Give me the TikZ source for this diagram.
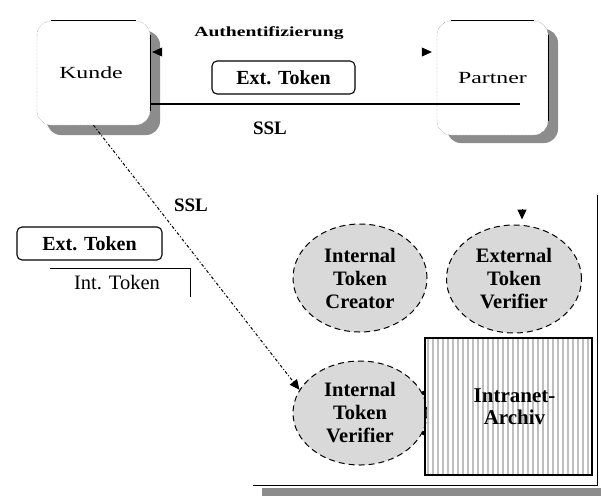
\documentclass[tikz,border=0pt]{standalone}
\usepackage{fontspec}
\setmainfont{Liberation Serif}
\newfontfamily\widefont[FakeStretch=1.4]{Liberation Serif}
\usetikzlibrary{arrows.meta,shapes.geometric}
\tikzset{
  shadowfill/.style={fill=black!45},
  bigbox/.style={rectangle, rounded corners=14pt, fill=white, inner sep=0pt},
  tokbox/.style={rectangle, rounded corners=5pt, draw, line width=1.1pt, inner sep=0pt, font=\fontsize{20}{22}\selectfont\bfseries},
  lbl/.style={font=\fontsize{19}{22}\selectfont\bfseries, inner sep=0pt},
  tokell/.style={ellipse, draw, dashed, dash pattern=on 6pt off 4pt, line width=1pt, fill=black!15, align=center, inner sep=0pt, font=\fontsize{20.5}{23}\selectfont\bfseries},
  tipA/.style={-{Triangle[black,length=10pt,width=9pt]}},
}
\begin{document}
\begin{tikzpicture}[x=1pt,y=-1pt]
\useasboundingbox (0,0) rectangle (601,496);
% shadows of the two top boxes
\fill[shadowfill, rounded corners=14pt] (47,31) rectangle (160,135);
\fill[shadowfill, rounded corners=14pt] (447,29) rectangle (558,143);
\node[bigbox, minimum width=113pt, minimum height=104pt, font=\widefont\fontsize{17}{20}\selectfont] (kunde) at (93.5,73) {\hspace*{-5pt}Kunde};
\node[bigbox, minimum width=111pt, minimum height=114pt, font=\widefont\fontsize{17}{20}\selectfont] (partner) at (492.5,78) {Partner};
% partial borders
\draw[black!60, densely dotted, rounded corners=14pt] (37,21) rectangle (150,125);
\draw[black!60, densely dotted, rounded corners=14pt] (437,21) rectangle (548,135);
\draw[line width=1.2pt] ([xshift=14pt]kunde.north west) -- ([xshift=-14pt]kunde.north east);
\draw[line width=1.2pt] ([yshift=-14pt]kunde.north east) -- ([yshift=14pt]kunde.south east);
\draw[line width=1.2pt] ([xshift=14pt]partner.north west) -- ([xshift=-14pt]partner.north east);
\draw[line width=1.2pt] ([yshift=-14pt]partner.north east) -- ([yshift=14pt]partner.south east);
% top labels and connectors
\node[lbl, font=\widefont\fontsize{14}{17}\selectfont\bfseries] (auth) at (269,33) {Authentifizierung};
\node[tokbox, minimum width=143pt, minimum height=33pt] (ext1) at (283.5,77.5) {Ext. Token};
\coordinate (yarr) at (0,52);
\coordinate (yssl) at (0,104);
\coordinate (sslend) at (520,104);
\draw[white, line width=0.5pt, {Triangle[black,length=10pt,width=9pt]}-{Triangle[black,length=10pt,width=9pt]}, shorten <=2pt, shorten >=5pt] (kunde.east |- yarr) -- (partner.west |- yarr);
\draw[line width=1.2pt] (kunde.east |- yssl) -- (sslend);
\node[lbl] (ssl1) at (270,128) {SSL};
% lower part: frame with shadow
\coordinate (frtop) at (597,195);
\coordinate (frcorner) at (597,485);
\coordinate (frleft) at (253,485);
\fill[shadowfill] (262,488) rectangle (601,496);
\draw[line width=1pt] (frtop) -- (frcorner) -- (frleft);
% ellipses
\node[tokell, minimum width=134pt, minimum height=108pt] (itc) at (360,278) {Internal\\Token\\Creator};
\node[tokell, minimum width=135pt, minimum height=108pt] (etv) at (514,279) {External\\Token\\Verifier};
\node[tokell, minimum width=134pt, minimum height=104pt] (itv) at (360,413) {Internal\\Token\\Verifier};
% archive
\node[rectangle, draw, line width=2.5pt, minimum width=167pt, minimum height=137pt, align=center,
  font=\fontsize{21}{22}\selectfont\bfseries, inner sep=0pt,
  path picture={\foreach \xx in {3,8,...,167} \draw[black!25, line width=1.4pt] ([xshift=\xx pt]path picture bounding box.south west) -- ([xshift=\xx pt]path picture bounding box.north west);}] (archiv) at (508.5,406.5) {\hspace*{12pt}Intranet-\\\hspace*{12pt}Archiv};
\fill (archiv.west |- 0,393) circle (2.2pt);
\fill (archiv.west |- 0,433) circle (2.2pt);
% arrow into External Token Verifier
\coordinate (etvin) at (522,209);
\draw[tipA, line width=1pt] (etvin) -- ([yshift=5pt]etvin |- etv.north);
% dashed SSL connector
\draw[line width=1pt, dash pattern=on 3pt off 2pt on 1pt off 2pt, tipA] (kunde.south) -- (itv.159);
\node[lbl] (ssl2) at (191,205) {SSL};
% left tokens
\node[tokbox, minimum width=145pt, minimum height=33pt] (ext2) at (89.5,243.5) {Ext. Token};
\node[inner sep=0pt, minimum width=140pt, minimum height=28pt, font=\fontsize{20.5}{22}\selectfont] (inttok) at (120,283) {\hspace*{-6pt}Int. Token};
\draw[line width=1.1pt] (inttok.north west) -- (inttok.north east) -- (inttok.south east);
\end{tikzpicture}
\end{document}
